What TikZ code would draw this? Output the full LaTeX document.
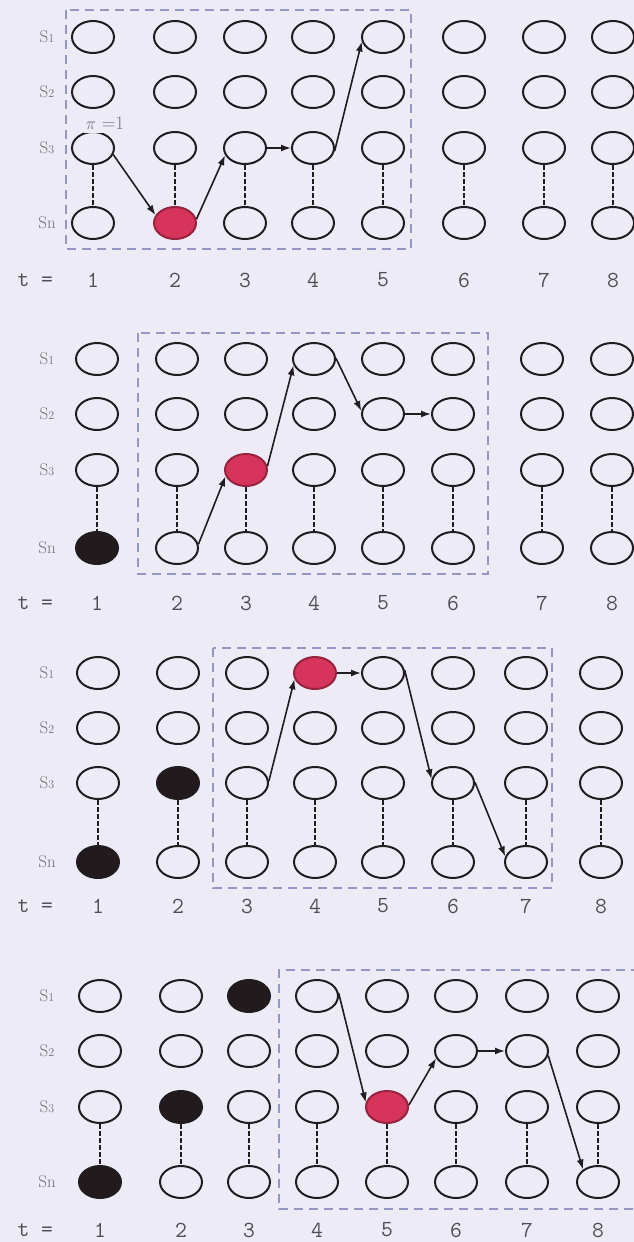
\documentclass[tikz,border=0pt]{standalone}
\usetikzlibrary{arrows.meta,shapes.geometric}
\definecolor{bgc}{RGB}{237,235,246}
\definecolor{redc}{RGB}{214,52,90}
\definecolor{blackc}{RGB}{34,26,28}
\definecolor{linec}{RGB}{32,28,32}
\definecolor{boxc}{RGB}{150,150,196}
\definecolor{labc}{RGB}{115,113,120}
\definecolor{tc}{RGB}{80,78,85}
\tikzset{
  st/.style={ellipse, draw=linec, line width=2pt, minimum width=42pt, minimum height=32pt, inner sep=0pt},
  redst/.style={fill=redc, draw=redc!70!black},
  blkst/.style={fill=blackc},
  vdash/.style={draw=linec, line width=2.6pt, dash pattern=on 4.5pt off 2.5pt},
  arr/.style={draw=linec, line width=1.6pt, -{Latex[length=10pt,width=7pt]}},
  frame/.style={draw=boxc, line width=1.2pt, dash pattern=on 9pt off 6pt},
  rowlab/.style={text=labc, font=\fontsize{17}{17}\selectfont},
  tlab/.style={text=tc, font=\ttfamily\fontsize{23}{23}\selectfont},
  % filled states
  f-a-4-2/.style={redst},
  f-b-4-1/.style={blkst}, f-b-3-3/.style={redst},
  f-c-4-1/.style={blkst}, f-c-3-2/.style={blkst}, f-c-1-4/.style={redst},
  f-d-4-1/.style={blkst}, f-d-3-2/.style={blkst}, f-d-1-3/.style={blkst}, f-d-3-5/.style={redst},
}
\newcommand{\slab}[1]{S{\fontsize{12}{12}\selectfont #1}}
\begin{document}
\begin{tikzpicture}[x=1pt,y=-1pt]
\fill[bgc] (0,0) rectangle (634,1242);
\useasboundingbox (0,0) rectangle (634,1242);
% panels: name / columns / rows / t-row
\foreach \p/\cols/\rows/\ty in {
  a/{93,175,245,313,383,464,544,613}/{37,92,148,223}/280,
  b/{97,177,246,314,383,453,542,612}/{359,414,470,548}/603,
  c/{98,178,247,315,383,453,526,601}/{673,728,783,862}/906,
  d/{100,181,249,317,387,456,527,598}/{996,1051,1107,1182}/1230}{
  \foreach \x [count=\c] in \cols {
    \foreach \y [count=\r] in \rows {
      \node[st, f-\p-\r-\c/.try] (\p\r\c) at (\x,\y) {};
    }
    \draw[vdash] (\p3\c.south) -- (\p4\c.north);
    \node[tlab] (\p t\c) at (\x,\ty) {\c};
  }
  \foreach \y [count=\r] in \rows {
    \ifnum\r=4
      \node[rowlab] (\p l\r) at (47,\y) {Sn};
    \else
      \node[rowlab] (\p l\r) at (47,\y) {\slab{\r}};
    \fi
  }
  \node[tlab, anchor=west] (\p teq) at (14,\ty) {t =};
}
% dashed frames
\draw[frame] (66,10) rectangle (411,249);
\draw[frame] (138,333) rectangle (488,574);
\draw[frame] (213,648) rectangle (552,888);
\draw[frame] (640,970) -- (279,970) -- (279,1209) -- (640,1209);
% pi label
\node[fill=bgc, inner xsep=2pt, inner ysep=4pt, text=labc, font=\fontsize{19}{19}\selectfont] (pi) at (105,123) {$\pi$ =1};
% panel 1 arrows
\draw[arr] (a31.-18) -- (a42.158);
\draw[arr] (a42.10) -- (a33.200);
\draw[arr] (a33.east) -- (a34.west);
\draw[arr] (a34.-8) -- (a15.192);
% panel 2 arrows
\draw[arr] (b42.10) -- (b33.197);
\draw[arr] (b33.10) -- (b14.197);
\draw[arr] (b14.2) -- (b25.172);
\draw[arr] (b25.east) -- (b26.west);
% panel 3 arrows
\draw[arr] (c33.5) -- (c14.197);
\draw[arr] (c14.east) -- (c15.west);
\draw[arr] (c15.8) -- (c36.170);
\draw[arr] (c36.2) -- (c47.165);
% panel 4 arrows
\draw[arr] (d14.8) -- (d35.168);
\draw[arr] (d35.5) -- (d26.200);
\draw[arr] (d26.east) -- (d27.west);
\draw[arr] (d27.-12) -- (d48.140);
\end{tikzpicture}
\end{document}
